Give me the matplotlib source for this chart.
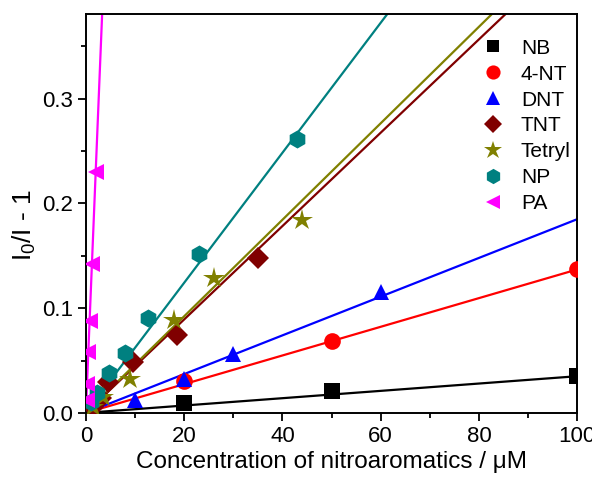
"""Stern-Volmer plots for nitroaromatic quenchers."""

import matplotlib
matplotlib.use("Agg")
import matplotlib.pyplot as plt
from matplotlib.ticker import MultipleLocator

plt.rcParams["font.family"] = ["Liberation Sans", "DejaVu Sans"]
plt.rcParams["mathtext.default"] = "regular"

# --- Data ---
names = ["NB", "4-NT", "DNT", "TNT", "Tetryl", "NP", "PA"]
colors = ["black", "#ff0000", "#0000ff", "#800000", "#808000", "#008080", "#ff00ff"]
markers = ["s", "o", "^", "D", "*", "h", "<"]

nb_x = [20, 50, 100]
nb_y = [0.009, 0.021, 0.035]
nt_x = [20, 50, 100]
nt_y = [0.030, 0.069, 0.137]
dnt_x = [10, 20, 30, 60]
dnt_y = [0.012, 0.032, 0.056, 0.115]
tnt_x = [1.5, 3, 4.5, 9.5, 18.5, 35]
tnt_y = [0.006, 0.014, 0.029, 0.049, 0.074, 0.148]
tetryl_x = [1.5, 3.5, 9, 18, 26, 44]
tetryl_y = [0.006, 0.015, 0.032, 0.089, 0.129, 0.184]
np_x = [1, 2.2, 4.7, 8, 12.6, 23, 43]
np_y = [0.010, 0.019, 0.038, 0.057, 0.091, 0.152, 0.262]
pa_x = [0.2, 0.3, 0.5, 0.75, 1.25, 2.0]
pa_y = [0.012, 0.028, 0.058, 0.088, 0.142, 0.230]

# slopes of the linear fits (through origin)
fit_slopes = [0.00035, 0.00137, 0.00185, 0.00446, 0.00461, 0.00621, 0.1148]

series_x = [nb_x, nt_x, dnt_x, tnt_x, tetryl_x, np_x, pa_x]
series_y = [nb_y, nt_y, dnt_y, tnt_y, tetryl_y, np_y, pa_y]
marker_sizes = [11, 12, 12, 11, 16, 13, 12]


def main() -> None:
    fig = plt.figure(figsize=(5.92, 4.84), dpi=100)
    ax = fig.add_axes([0.145, 0.147, 0.830, 0.824])

    # fit lines
    for slope, c in zip(fit_slopes, colors):
        xs = [0, 100]
        ax.plot(xs, [slope * x for x in xs], color=c, lw=1.6, zorder=2)

    # data points
    for name, x, y, c, m, ms in zip(names, series_x, series_y, colors, markers, marker_sizes):
        ax.plot(x, y, linestyle="none", marker=m, color=c, markersize=ms,
                markeredgewidth=0, label=name, zorder=3)

    ax.set_xlim(0, 100)
    ax.set_ylim(0, 0.381)
    ax.xaxis.set_major_locator(MultipleLocator(20))
    ax.xaxis.set_minor_locator(MultipleLocator(10))
    ax.yaxis.set_major_locator(MultipleLocator(0.1))
    ax.yaxis.set_minor_locator(MultipleLocator(0.05))
    ax.tick_params(which="both", direction="out", top=False, right=False, width=1.3)
    ax.tick_params(which="major", length=6, labelsize=16)
    ax.tick_params(which="minor", length=3.5)
    for sp in ax.spines.values():
        sp.set_linewidth(1.4)

    ax.set_xlabel("Concentration of nitroaromatics / μM", fontsize=17.5, labelpad=3)
    ax.set_ylabel("I$_0$/I - 1", fontsize=19)
    ax.yaxis.set_label_coords(-0.097, 0.47)

    ax.legend(loc="upper right", bbox_to_anchor=(1.025, 0.985), frameon=False,
              fontsize=15, handlelength=1.2, handletextpad=0.75,
              labelspacing=0.33, markerscale=0.85)

    fig.savefig("out.png", dpi=100)
    plt.close(fig)


if __name__ == "__main__":
    main()
